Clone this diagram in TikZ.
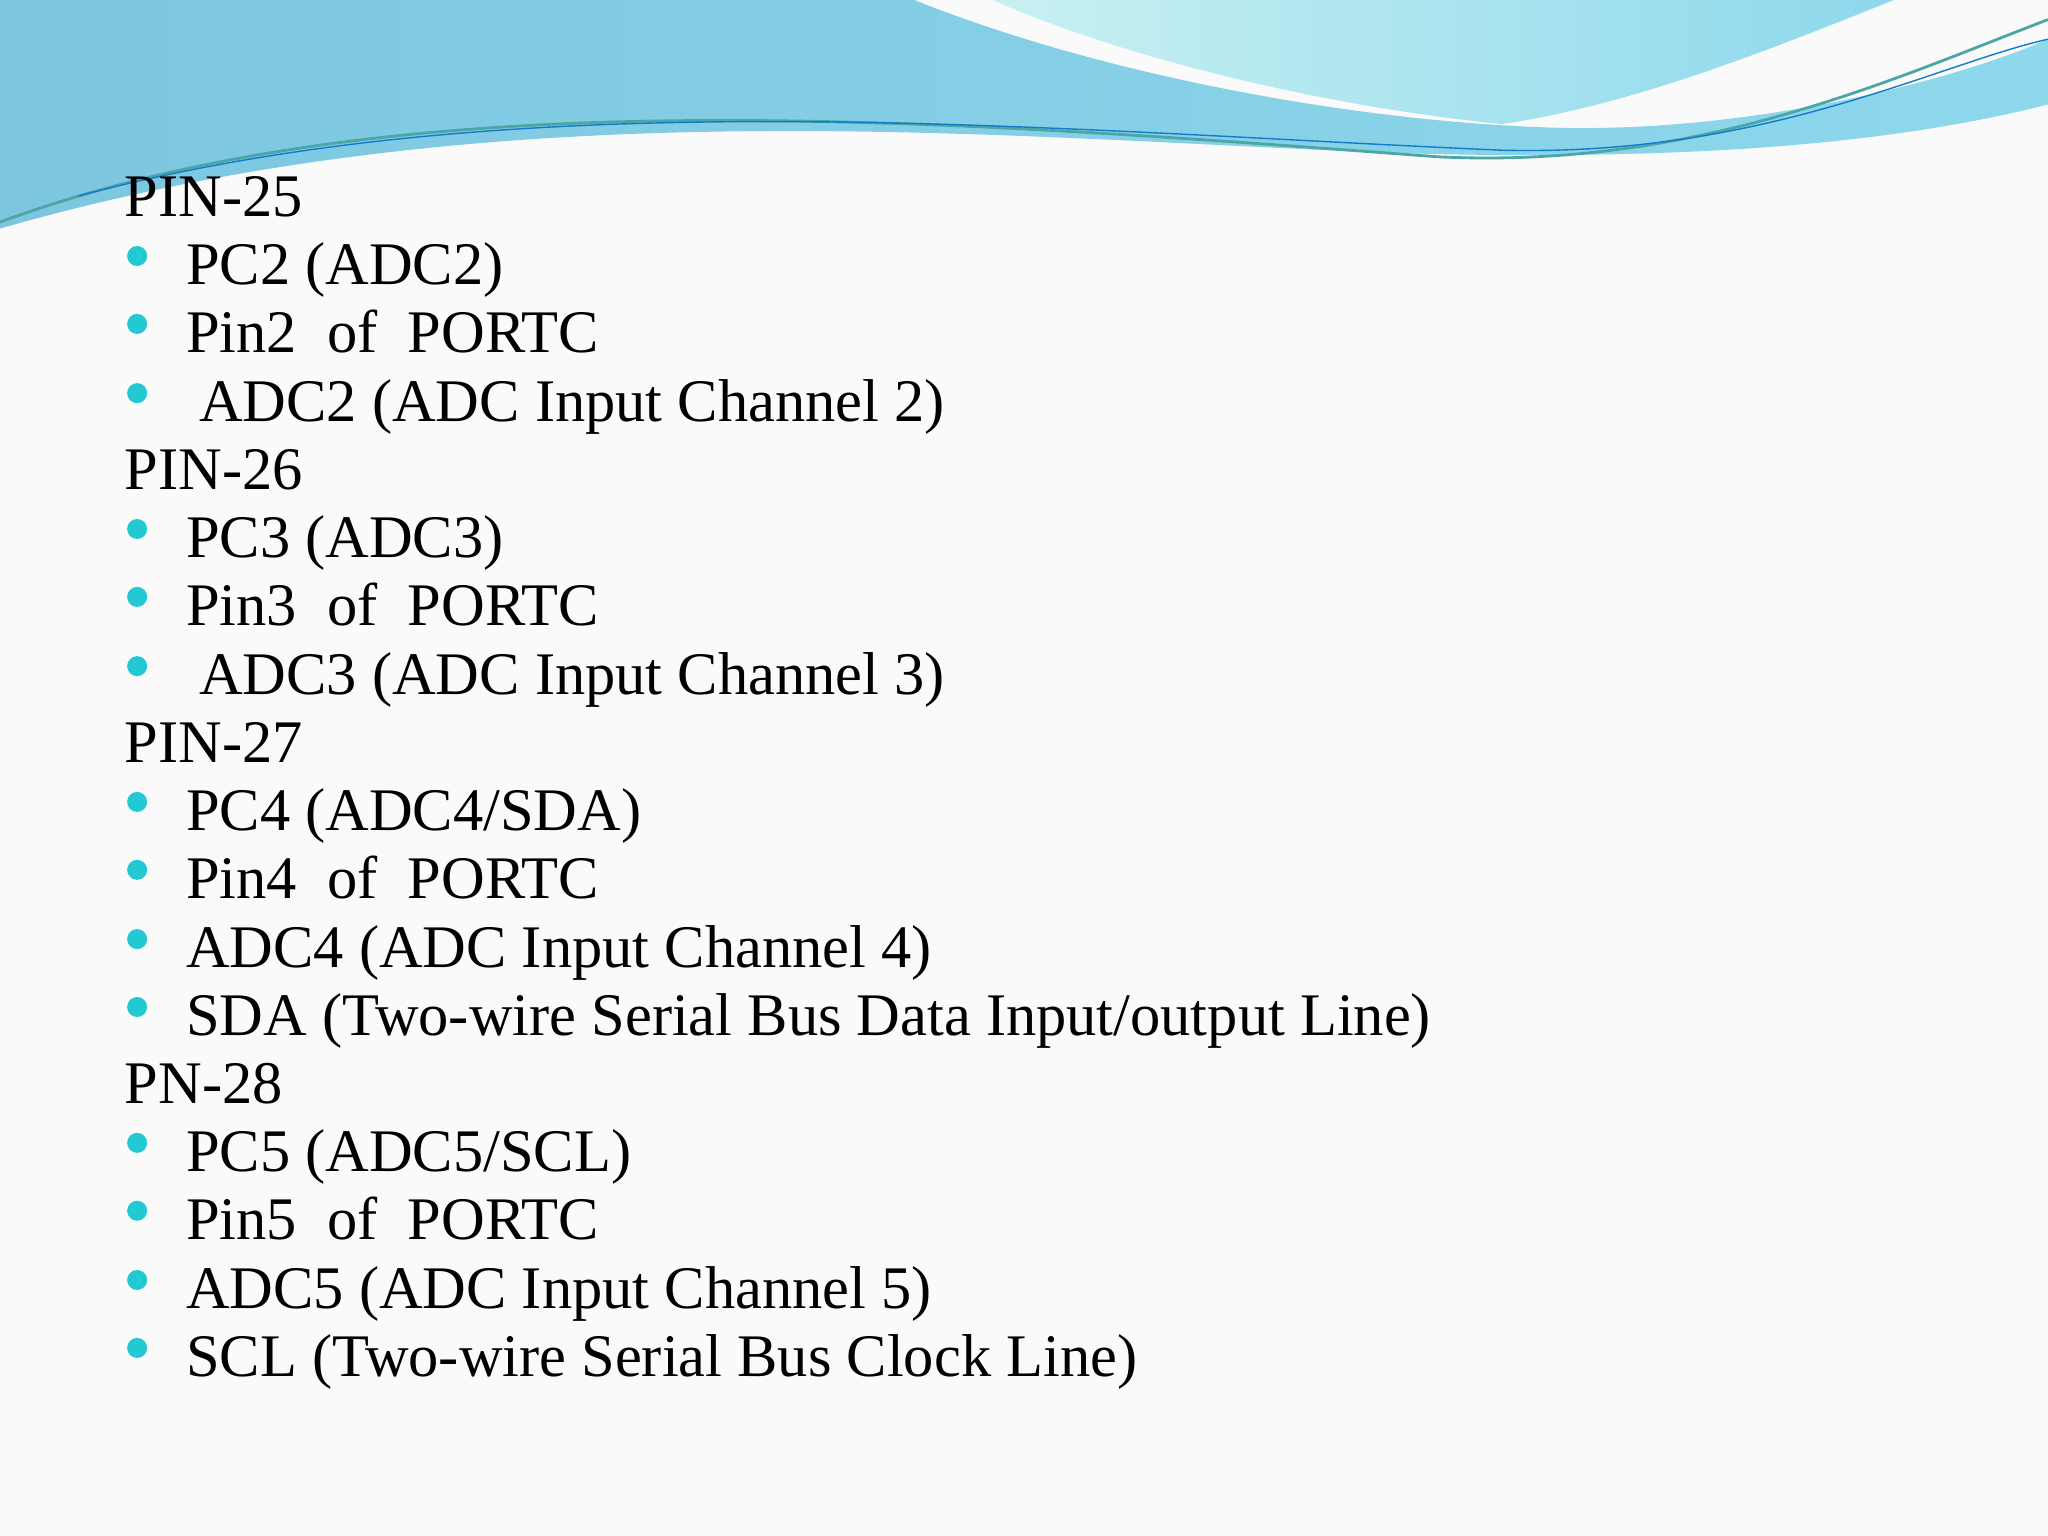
\documentclass[tikz,border=0pt]{standalone}
\usepackage{fontspec}
\setmainfont{Liberation Serif}
\definecolor{hleft}{HTML}{7CC6E0}
\definecolor{hright}{HTML}{8ED8EC}
\definecolor{hpale}{HTML}{C8F0F2}
\definecolor{dotc}{HTML}{22C8D2}
\begin{document}
\begin{tikzpicture}[x=0.01306cm,y=-0.01306cm,
  head/.style={anchor=base west,inner sep=0,font=\fontsize{17.2}{20}\selectfont},
  item/.style={anchor=base west,inner sep=0,font=\fontsize{17.2}{20}\selectfont},
  dot/.style={circle,fill=dotc,inner sep=0,minimum size=0.2cm}]
\fill[gray!4] (0,0) rectangle (1568,1176);
\useasboundingbox (0,0) rectangle (1568,1176);
% header waves
\shade[left color=hleft, right color=hright] (0,0) -- (700,0) .. controls (850,60) and (1050,95) .. (1200,98) .. controls (1350,100) and (1500,60) .. (1568,30) -- (1568,80) .. controls (1450,110) and (1300,122) .. (1100,118) .. controls (800,110) and (400,60) .. (0,175) -- cycle;
\shade[left color=hpale, right color=hright] (760,0) -- (1450,0) .. controls (1350,40) and (1250,80) .. (1150,95) .. controls (1000,80) and (850,40) .. (760,0) -- cycle;
\draw[teal!70,thick] (0,170) .. controls (300,60) and (700,90) .. (1100,120) .. controls (1300,130) and (1450,60) .. (1568,15);
\draw[cyan!60!blue,thin] (60,150) .. controls (400,60) and (800,100) .. (1150,115) .. controls (1350,120) and (1480,50) .. (1568,30);
% text
\node[head] (h1) at (95,166) {PIN-25};
\node[item] (a1) at (142,218) {PC2 (ADC2)};
\node[item] (a2) at (142,270) {Pin2 \ of \ PORTC};
\node[item] (a3) at (152,323) {ADC2 (ADC Input Channel 2)};
\node[head] (h2) at (95,375) {PIN-26};
\node[item] (b1) at (142,427) {PC3 (ADC3)};
\node[item] (b2) at (142,479) {Pin3 \ of \ PORTC};
\node[item] (b3) at (152,532) {ADC3 (ADC Input Channel 3)};
\node[head] (h3) at (95,584) {PIN-27};
\node[item] (c1) at (142,636) {PC4 (ADC4/SDA)};
\node[item] (c2) at (142,688) {Pin4 \ of \ PORTC};
\node[item] (c3) at (142,741) {ADC4 (ADC Input Channel 4)};
\node[item] (c4) at (142,793) {SDA (Two-wire Serial Bus Data Input/output Line)};
\node[head] (h4) at (95,845) {PN-28};
\node[item] (d1) at (142,897) {PC5 (ADC5/SCL)};
\node[item] (d2) at (142,949) {Pin5 \ of \ PORTC};
\node[item] (d3) at (142,1002) {ADC5 (ADC Input Channel 5)};
\node[item] (d4) at (142,1054) {SCL (Two-wire Serial Bus Clock Line)};
\foreach \yy in {196,248,301,405,457,510,614,666,719,771,875,927,980,1032}
  \node[dot] at (105,\yy) {};
\end{tikzpicture}
\end{document}
